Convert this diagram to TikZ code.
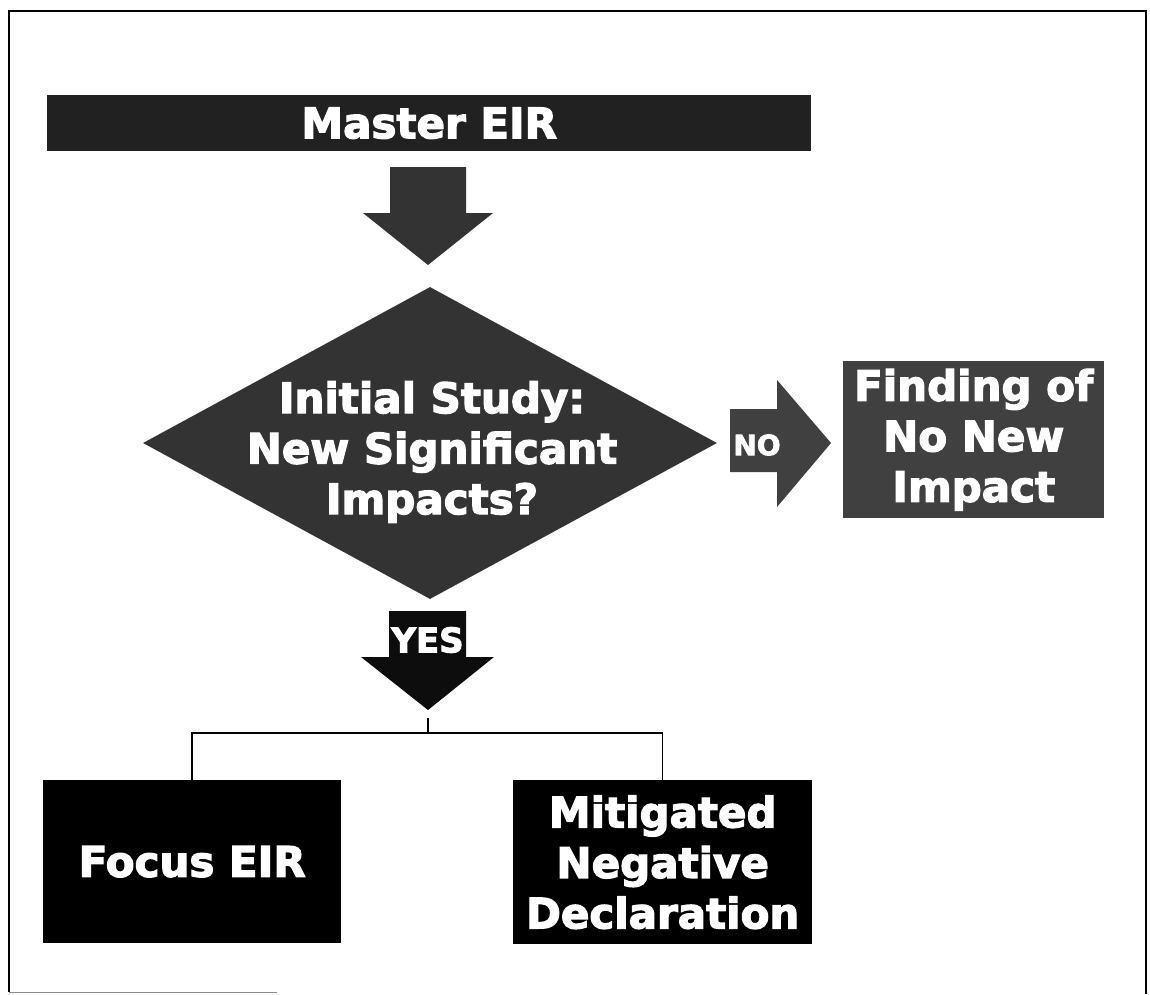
\documentclass[tikz,border=0pt]{standalone}
\usepackage{fontspec}
\newfontfamily\heavy{DejaVu Sans}[BoldFont={DejaVu Sans Bold},BoldFeatures={FakeBold=3}]
\usetikzlibrary{shapes.geometric,calc}
\definecolor{texA}{gray}{0.13}
\definecolor{texB}{gray}{0.2}
\definecolor{texC}{gray}{0.25}
\begin{document}
\begin{tikzpicture}[x=1pt,y=-1pt,
  bigtxt/.style={text=white,font=\heavy\bfseries\fontsize{42}{50.5}\selectfont,align=center,inner sep=0pt},
  smalltxt/.style={text=white,font=\heavy\bfseries\fontsize{#1}{#1}\selectfont,inner sep=0pt},
  blockbox/.style={fill=#1,draw=none,inner sep=0pt,anchor=north west},
  conn/.style={draw=black,line width=1.5pt},
  frameline/.style={draw=black,line width=2.5pt}]
\useasboundingbox (0,0) rectangle (1150,994);
\fill[white] (0,0) rectangle (1150,994);
% frame
\draw[frameline] (9,992) -- (9,11) -- (1146,11) -- (1146,994);
\draw[draw=black!45,line width=1pt] (9,992) -- (277,992);

% Master EIR bar
\node[blockbox=texA,minimum width=764pt,minimum height=56pt,bigtxt,anchor=north west] (master) at (47,95) {Master EIR};

% arrow from Master to diamond
\coordinate (a1top) at (428,167);
\coordinate (a1tip) at (428,265);
\fill[texB] (a1top) ++(-38,0) -- ++(76,0) -- ++(0,46) -- ++(27,0) -- (a1tip) -- ++(-65,-52) -- ++(27,0) -- cycle;

% diamond
\node[diamond,fill=texB,draw=none,inner sep=0pt,minimum width=574pt,minimum height=312pt] (study) at (430,443) {};
\node[bigtxt] (studytxt) at (432,452) {Initial Study:\\New Significant\\Impacts?};

% NO arrow
\coordinate (a2base) at (730,443);
\coordinate (a2tip) at (831,443);
\fill[texC] (730,409) -- (777,409) -- (777,380) -- (a2tip) -- (777,507) -- (777,472) -- (730,472) -- cycle;
\node[smalltxt=28] (notxt) at (757,445) {NO};

% Finding box
\node[blockbox=texC,minimum width=261pt,minimum height=157pt,bigtxt,anchor=north west] (finding) at (843,361) {Finding of\\No New\\Impact};

% YES arrow
\coordinate (a3top) at (428,611);
\coordinate (a3tip) at (428,710);
\fill[black!95] (389,611) -- (466,611) -- (466,657) -- (494,657) -- (a3tip) -- (361,657) -- (389,657) -- cycle;
\node[smalltxt=34] (yestxt) at (427.5,640) {YES};

% bottom boxes
\node[blockbox=black,minimum width=298pt,minimum height=163pt,bigtxt,anchor=north west] (focus) at (43,780) {Focus EIR};
\node[blockbox=black,minimum width=299pt,minimum height=164pt,bigtxt,anchor=north west] (mitig) at (513,780) {Mitigated\\Negative\\Declaration};

% connectors
\coordinate (stub) at (428,718);
\coordinate (junc) at (428,733);
\draw[conn] (stub) -- (junc);
\draw[conn] (focus.north) |- (junc) -| (mitig.north);
\end{tikzpicture}
\end{document}
